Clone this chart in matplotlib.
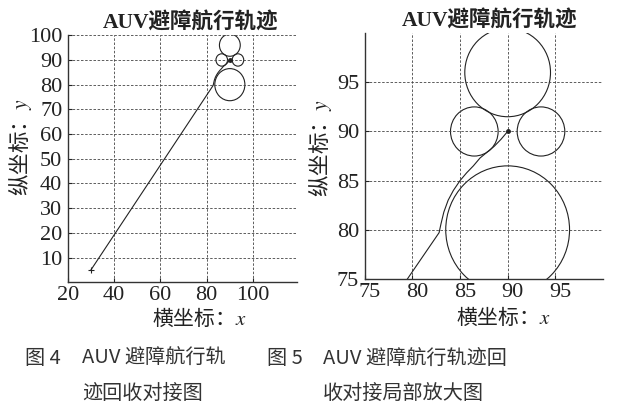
import numpy as np
import matplotlib
matplotlib.use("Agg")
from matplotlib import pyplot as plt
from matplotlib.patches import Circle
from matplotlib.transforms import ScaledTranslation

plt.rcParams['mathtext.fontset'] = 'stix'

# obstacle circles (centre x, centre y, radius)
circle_cx = [90, 86.5, 93.5, 90]
circle_cy = [96, 90, 90, 80]
circle_r = [4.5, 2.5, 2.5, 6.5]

# AUV track
path_x = [30, 82.8, 83.0, 83.3, 83.75, 84.3, 85.0, 85.7, 86.4, 87.1, 87.85, 88.6, 89.3, 90]
path_y = [5, 79.7, 80.6, 81.8, 83.0, 84.0, 85.0, 85.8, 86.5, 87.3, 87.9, 88.5, 89.2, 90]

title = "AUV避障航行轨迹"
xlabel = "横坐标：$x$"
ylabel = "纵坐标：$y$"

left_xticks = [20, 40, 60, 80, 100]
left_yticks = [10, 20, 30, 40, 50, 60, 70, 80, 90, 100]
right_ticks = [75, 80, 85, 90, 95]

cap4 = ["图 4", "AUV 避障航行轨", "迹回收对接图"]
cap5 = ["图 5", "AUV 避障航行轨迹回", "收对接局部放大图"]

serif = ['Liberation Serif', 'Noto Sans CJK SC']
cjk = 'Noto Sans CJK SC'
ink = '#222222'

fig = plt.figure(figsize=(6.4, 4.15), dpi=100)
ax1 = fig.add_axes([0.106, 0.320, 0.358, 0.595])
ax2 = fig.add_axes([0.570, 0.328, 0.372, 0.592])


def draw(ax, xlim, ylim, xt, yt, tx, xl_pos, yl_pos):
    ax.plot(path_x, path_y, color=ink, lw=0.8)
    ax.plot(path_x[0], path_y[0], '+', color=ink, ms=4, mew=0.8)
    ax.plot(path_x[-1], path_y[-1], 'o', color=ink, ms=2.5)
    for cx, cy, r in zip(circle_cx, circle_cy, circle_r):
        ax.add_patch(Circle((cx, cy), r, fill=False, ec=ink, lw=0.8))
    ax.set_xlim(*xlim)
    ax.set_ylim(*ylim)
    ax.set_xticks(xt)
    ax.set_yticks(yt)
    ax.grid(True, color='#444444', ls=(0, (3, 2)), lw=0.6)
    ax.spines['top'].set_visible(False)
    ax.spines['right'].set_visible(False)
    for s in ('left', 'bottom'):
        ax.spines[s].set_color('#333333')
        ax.spines[s].set_linewidth(1.0)
    ax.tick_params(direction='in', length=3, width=0.8, labelsize=16,
                   colors=ink)
    ax.tick_params(axis='x', pad=3)
    ax.tick_params(axis='y', pad=4)
    for lab in ax.get_xticklabels() + ax.get_yticklabels():
        lab.set_family('Liberation Serif')
    ax.set_title(title, family=serif, fontsize=15.5, fontweight='bold',
                 color=ink, pad=5, x=tx)
    ax.set_xlabel(xlabel, family=cjk, fontsize=15, color=ink, va='center')
    ax.set_ylabel(ylabel, family=cjk, fontsize=15.5, color=ink, va='center')
    ax.xaxis.set_label_coords(*xl_pos)
    ax.yaxis.set_label_coords(*yl_pos)


draw(ax1, (20, 119), (0, 100), left_xticks, left_yticks,
     0.537, (0.576, -0.146), (-0.21, 0.547))
draw(ax2, (75, 100), (75, 100), right_ticks, right_ticks,
     0.525, (0.58, -0.158), (-0.19, 0.533))

# x tick labels of the zoomed plot sit a little right of their ticks
shift = ScaledTranslation(5 / 100, 0, fig.dpi_scale_trans)
for lab in ax2.get_xticklabels():
    lab.set_transform(lab.get_transform() + shift)

fig.text(25 / 640, 1 - 358 / 415, cap4[0], family=cjk, fontsize=14.5,
         color='#333333', va='center')
fig.text(82 / 640, 1 - 358 / 415, cap4[1], family=cjk, fontsize=14.5,
         color='#333333', va='center')
fig.text(82 / 640, 1 - 393 / 415, cap4[2], family=cjk, fontsize=14.5,
         color='#333333', va='center')
fig.text(267 / 640, 1 - 358 / 415, cap5[0], family=cjk, fontsize=14.5,
         color='#333333', va='center')
fig.text(323 / 640, 1 - 358 / 415, cap5[1], family=cjk, fontsize=14.5,
         color='#333333', va='center')
fig.text(323 / 640, 1 - 393 / 415, cap5[2], family=cjk, fontsize=14.5,
         color='#333333', va='center')

fig.savefig('out.png', dpi=100)
